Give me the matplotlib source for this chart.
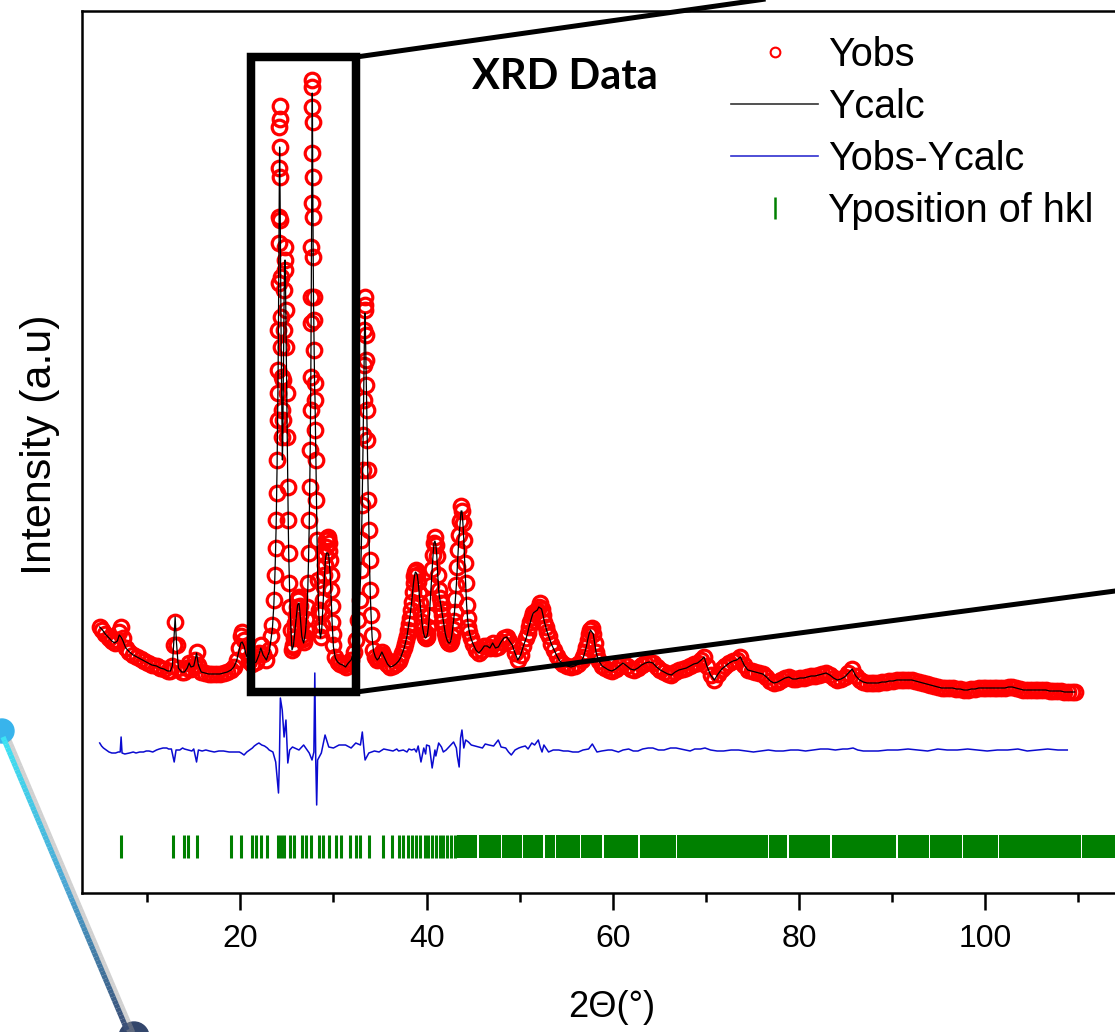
import matplotlib
matplotlib.use("Agg")
import matplotlib.pyplot as plt
import numpy as np
from matplotlib.collections import LineCollection
from matplotlib.colors import LinearSegmentedColormap
from matplotlib.lines import Line2D
from matplotlib.patches import Ellipse, Rectangle

# ---------------------------------------------------------------------------
# Data (2theta in degrees, intensity in a.u.)
# ---------------------------------------------------------------------------

# 5 - 23 deg, low-angle background with a few weak reflections
tt_low = [4.9, 5.2, 5.5, 5.9, 6.2, 6.5, 6.8, 7.0, 7.2, 7.4,
          7.7, 8.1, 8.5, 8.9, 9.3, 9.7, 10.1, 10.5, 11.0, 11.4,
          11.8, 12.2, 12.5, 12.7, 12.85, 13.0, 13.15, 13.35, 13.7, 14.0,
          14.3, 14.5, 14.7, 15.0, 15.15, 15.3, 15.5, 15.8, 16.2, 16.6,
          17.0, 17.4, 17.8, 18.2, 18.6, 19.0, 19.3, 19.6, 19.85, 20.05,
          20.2, 20.4, 20.6, 20.9, 21.3, 21.7, 22.0, 22.2, 22.45, 22.8,
          23.1, 23.3]
obs_low = [266, 263, 259, 255, 252, 250, 253, 261, 266, 255,
           245, 241, 238, 236, 234, 232, 230, 228, 227, 225,
           224, 222, 222, 227, 248, 271, 248, 225, 221, 221,
           225, 230, 224, 227, 233, 241, 228, 221, 220, 219,
           219, 219, 219, 220, 221, 223, 226, 233, 245, 257,
           261, 253, 241, 232, 229, 231, 240, 248, 239, 233,
           243, 257]
calc_low = [266, 263, 259, 255, 252, 250, 252, 258, 256, 252,
            245, 241, 238, 236, 234, 232, 230, 228, 227, 225,
            224, 222, 222, 227, 250, 276, 250, 225, 221, 221,
            225, 230, 226, 227, 233, 240, 228, 221, 220, 219,
            219, 219, 219, 220, 221, 223, 226, 232, 242, 250,
            251, 247, 239, 232, 229, 231, 238, 245, 238, 233,
            241, 254]

# 23 - 35 deg, the strong reflections inside the zoom box
tt_main = [23.45, 23.6, 23.7, 23.78, 23.85, 23.9, 23.95, 24.0, 24.03, 24.06,
           24.09, 24.12, 24.14, 24.16, 24.18, 24.2, 24.22, 24.24, 24.26, 24.28,
           24.31, 24.34, 24.37, 24.4, 24.44, 24.48, 24.52, 24.56, 24.6, 24.65,
           24.7, 24.75, 24.8, 24.85, 24.9, 24.95, 25.0, 25.05, 25.1, 25.15,
           25.2, 25.28, 25.36, 25.45, 25.55, 25.7, 25.85, 26.0, 26.15, 26.3,
           26.45, 26.6, 26.8, 27.0, 27.15, 27.25, 27.33, 27.4, 27.45, 27.5,
           27.54, 27.57, 27.6, 27.62, 27.64, 27.66, 27.68, 27.7, 27.72, 27.74,
           27.76, 27.78, 27.8, 27.83, 27.86, 27.9, 27.94, 27.98, 28.02, 28.07,
           28.12, 28.18, 28.25, 28.33, 28.42, 28.52, 28.62, 28.75, 28.88, 29.0,
           29.12, 29.25, 29.38, 29.5, 29.62, 29.75, 29.88, 30.0, 30.2, 30.45,
           30.7, 31.0, 31.3, 31.6, 31.9, 32.2, 32.45, 32.65, 32.8, 32.92,
           33.0, 33.07, 33.13, 33.18, 33.23, 33.27, 33.31, 33.35, 33.38, 33.42,
           33.46, 33.5, 33.55, 33.6, 33.65, 33.7, 33.76, 33.82, 33.88, 33.95,
           34.05, 34.15, 34.3, 34.5, 34.7,
           # extra readings on the broad 29.4 deg line and the valleys
           28.81, 28.94, 29.06, 29.18, 29.31, 29.44, 29.56, 29.69, 29.81, 29.94,
           25.62, 25.78, 25.92, 26.08, 26.22, 26.38, 26.52, 26.7, 26.9, 27.08]
obs_main = [268, 293, 318, 345, 373, 400, 433, 473, 500, 523,
            563, 610, 650, 676, 725, 766, 787, 774, 746, 716,
            673, 616, 576, 546, 516, 483, 456, 473, 513, 563,
            603, 633, 646, 623, 583, 546, 500, 456, 406, 373,
            340, 310, 286, 263, 243, 248, 263, 278, 293, 296,
            278, 258, 251, 263, 286, 310, 340, 373, 406, 443,
            483, 516, 570, 596, 646, 690, 740, 786, 813, 806,
            771, 716, 676, 636, 596, 573, 543, 510, 493, 463,
            433, 393, 353, 313, 283, 263, 256, 268, 293, 318,
            338, 353, 356, 350, 333, 303, 271, 248, 236, 231,
            229, 228, 226, 230, 233, 241, 253, 273, 293, 323,
            353, 388, 423, 458, 493, 528, 563, 588, 596, 583,
            558, 533, 508, 483, 453, 423, 393, 363, 333, 303,
            278, 258, 243, 236, 233,
            280, 306, 328, 346, 355, 354, 342, 318, 287, 259,
            246, 255, 270, 286, 295, 287, 268, 254, 256, 274]
calc_main = [265, 288, 313, 340, 368, 395, 428, 468, 495, 521,
             558, 603, 638, 671, 703, 731, 746, 738, 715, 688,
             648, 603, 568, 538, 503, 463, 433, 453, 493, 548,
             593, 625, 633, 613, 573, 533, 493, 448, 403, 368,
             338, 308, 283, 261, 243, 247, 261, 275, 288, 290,
             275, 257, 250, 261, 283, 305, 335, 368, 401, 438,
             478, 513, 563, 593, 638, 683, 728, 773, 800, 795,
             763, 713, 671, 631, 593, 563, 533, 506, 495, 463,
             428, 388, 348, 310, 281, 261, 255, 265, 288, 313,
             331, 340, 340, 337, 323, 296, 266, 246, 235, 231,
             229, 228, 226, 230, 233, 241, 252, 271, 290, 318,
             348, 381, 415, 448, 483, 515, 548, 573, 580, 571,
             548, 523, 498, 473, 443, 415, 385, 356, 328, 300,
             276, 256, 242, 236, 233,
             276, 300, 322, 336, 340, 339, 330, 310, 281, 256,
             245, 254, 268, 282, 289, 283, 266, 253, 255, 271]

# 35 - 60 deg
tt_mid = [34.9, 35.05, 35.2, 35.35, 35.5, 35.8, 36.1, 36.4, 36.7, 37.0,
          37.2, 37.4, 37.6, 37.7, 37.8, 37.9, 38.0, 38.1, 38.2, 38.3,
          38.4, 38.5, 38.6, 38.7, 38.8, 38.9, 39.0, 39.1, 39.2, 39.3,
          39.4, 39.5, 39.6, 39.7, 39.8, 39.9, 40.0, 40.1, 40.2, 40.3,
          40.4, 40.5, 40.6, 40.7, 40.8, 40.9, 41.0, 41.1, 41.2, 41.3,
          41.4, 41.5, 41.6, 41.7, 41.8, 41.9, 42.0, 42.1, 42.2, 42.3,
          42.4, 42.5, 42.6, 42.7, 42.8, 42.9, 43.0, 43.1, 43.2, 43.3,
          43.4, 43.5, 43.6, 43.7, 43.8, 43.9, 44.0, 44.1, 44.2, 44.3,
          44.4, 44.5, 44.6, 44.75, 45.0, 45.3, 45.6, 45.9, 46.2, 46.5,
          46.8, 47.1, 47.4, 47.7, 48.0, 48.3, 48.6, 48.9, 49.2, 49.5,
          49.8, 50.1, 50.4, 50.7, 50.85, 51.0, 51.15, 51.3, 51.45, 51.6,
          51.75, 51.9, 52.05, 52.2, 52.35, 52.5, 52.65, 52.8, 52.95, 53.1,
          53.4, 53.7, 54.0, 54.3, 54.7, 55.1, 55.5, 55.9, 56.3, 56.7,
          56.85, 57.0, 57.15, 57.3, 57.45, 57.6, 57.75, 57.9, 58.05, 58.2,
          58.35, 58.5, 58.85, 59.2, 59.55]
obs_mid = [235, 238, 241, 238, 235, 229, 226, 227, 229, 232,
           235, 240, 245, 249, 253, 257, 263, 269, 275, 283,
           291, 301, 310, 317, 321, 323, 318, 311, 300, 290,
           280, 271, 264, 259, 256, 255, 256, 259, 266, 277,
           292, 308, 324, 338, 350, 356, 348, 337, 318, 303,
           295, 290, 284, 278, 272, 266, 260, 256, 253, 251,
           250, 250, 252, 257, 264, 272, 281, 294, 308, 326,
           343, 358, 372, 387, 382, 370, 353, 330, 310, 288,
           275, 266, 261, 255, 249, 243, 240, 243, 247, 247,
           245, 250, 245, 246, 251, 255, 256, 252, 248, 240,
           233, 238, 247, 255, 260, 266, 271, 276, 280, 281,
           282, 283, 286, 290, 284, 278, 271, 266, 261, 257,
           249, 243, 237, 232, 229, 227, 226, 227, 229, 233,
           236, 241, 246, 253, 259, 263, 265, 259, 250, 241,
           236, 232, 227, 225, 223]
# Ycalc sits a little under the Yobs maxima of these lines
calc_mid_tops = {38.9: 320, 40.9: 352, 43.6: 369, 43.7: 382, 52.2: 285, 57.75: 261}

# 60 - 110 deg, high-angle tail (Ycalc follows Yobs within the line width)
tt_high = [59.9, 60.3, 60.7, 61.1, 61.5, 61.9, 62.3, 62.7, 63.1, 63.5,
           63.9, 64.3, 64.7, 65.1, 65.5, 65.9, 66.3, 66.7, 67.1, 67.5,
           67.9, 68.3, 68.7, 69.1, 69.5, 69.8, 70.1, 70.5, 70.9, 71.3,
           71.7, 72.1, 72.5, 72.9, 73.3, 73.7, 74.1, 74.5, 74.9, 75.3,
           75.7, 76.1, 76.5, 76.9, 77.3, 77.7, 78.1, 78.5, 78.9, 79.3,
           79.7, 80.1, 80.5, 80.9, 81.3, 81.7, 82.1, 82.5, 82.9, 83.3,
           83.7, 84.1, 84.5, 84.9, 85.3, 85.7, 86.1, 86.5, 86.9, 87.3,
           87.7, 88.1, 88.5, 88.9, 89.3, 89.7, 90.1, 90.5, 90.9, 91.3,
           91.7, 92.1, 92.5, 92.9, 93.3, 93.7, 94.1, 94.5, 94.9, 95.3,
           95.7, 96.1, 96.5, 96.9, 97.3, 97.7, 98.1, 98.5, 98.9, 99.3,
           99.7, 100.1, 100.5, 100.9, 101.3, 101.7, 102.1, 102.5, 102.9, 103.3,
           103.7, 104.1, 104.5, 104.9, 105.3, 105.7, 106.1, 106.5, 106.9, 107.3,
           107.7, 108.1, 108.5, 108.9, 109.3, 109.6]
obs_high = [222, 224, 227, 230, 227, 224, 223, 225, 228, 230,
            231, 230, 226, 223, 221, 219, 218, 221, 223, 224,
            225, 227, 229, 230, 233, 236, 227, 218, 213, 219,
            224, 227, 230, 232, 233, 236, 228, 223, 222, 221,
            220, 219, 216, 212, 210, 211, 213, 215, 216, 214,
            214, 215, 215, 216, 217, 217, 218, 219, 220, 218,
            215, 213, 214, 216, 220, 224, 217, 213, 211, 210,
            210, 210, 210, 211, 211, 212, 212, 213, 213, 213,
            213, 213, 212, 211, 210, 209, 208, 207, 206, 205,
            205, 205, 205, 204, 204, 203, 203, 204, 204, 205,
            205, 205, 205, 205, 205, 205, 205, 206, 206, 205,
            204, 203, 203, 203, 203, 203, 203, 203, 202, 202,
            202, 202, 201, 201, 201, 201]

# Yobs - Ycalc (difference curve), read separately
diff_tt = [4.9, 5.3, 5.9, 6.6, 7.1, 7.2, 7.3, 8.1, 9.2, 10.2,
           11.3, 12.1, 12.6, 12.9, 13.1, 14.0, 14.8, 15.3, 15.5, 16.7,
           17.7, 18.8, 19.9, 20.4, 21.0, 21.5, 22.0, 22.6, 23.1, 23.5,
           23.8, 24.1, 24.2, 24.3, 24.5, 24.7, 24.9, 25.1, 25.3, 25.6,
           26.3, 26.8, 27.4, 27.7, 27.9, 28.0, 28.1, 28.2, 28.3, 28.7,
           29.1, 29.5, 30.0, 30.6, 31.3, 31.9, 32.4, 32.9, 33.1, 33.3,
           33.4, 33.8, 34.9, 35.9, 37.0, 38.4, 38.9, 39.4, 39.7, 40.0,
           40.6, 40.9, 41.3, 42.1, 42.9, 43.5, 43.8, 44.2, 44.8, 45.6,
           46.7, 47.7, 48.5, 49.1, 49.9, 50.6, 51.3, 52.0, 52.4, 52.6,
           53.1, 54.2, 55.2, 56.3, 57.4, 57.8, 58.3, 59.5, 60.6, 61.7,
           62.7, 63.8, 64.9, 66.2, 67.3, 68.3, 69.4, 70.5, 71.9, 73.5,
           75.1, 76.7, 78.3, 79.9, 81.5, 83.1, 84.7, 85.8, 86.9, 88.5,
           90.6, 92.8, 94.9, 97.0, 99.2, 101.3, 103.5, 105.6, 107.8, 108.8,
           # finer readings of the small wiggles
           5.1, 5.6, 6.2, 6.9, 7.6, 8.5, 8.8, 9.6, 9.9, 10.6,
           11.0, 11.7, 12.3, 13.5, 13.8, 14.4, 15.0, 15.9, 16.3, 17.2,
           18.2, 19.3, 20.1, 20.7, 21.3, 21.8, 22.3, 22.9,
           34.4, 35.4, 36.4, 36.8, 37.5, 37.9, 38.1, 38.7, 39.1, 39.9,
           40.3, 41.0, 41.6, 41.8, 42.5, 43.2, 43.3, 43.65, 44.0, 44.5,
           45.2, 46.0, 46.3, 47.2, 48.0, 48.8, 49.5, 50.2, 50.9, 51.6,
           52.2, 53.6, 54.7, 55.7, 56.8, 58.8, 59.9,
           61.1, 62.2, 63.2, 64.3, 65.5, 66.8, 67.8, 68.8, 69.9, 71.2,
           72.7, 74.3, 75.9, 77.5, 79.1, 80.7, 82.3, 83.9, 85.2, 86.3,
           87.7, 89.5, 91.7, 93.8, 95.9, 98.1, 100.2, 102.4, 104.5, 106.7]
diff_val = [7, 2, -2, -3, -2, 13, -3, -3, -2, -1,
            1, 2, 1, -12, 0, 1, -1, -12, 0, -1,
            -1, -2, -2, -5, 0, 4, 7, 4, 0, -2,
            -12, -43, -10, 52, 40, 13, 30, -13, 0, 3,
            0, 5, -3, -10, -2, 77, -10, -55, -10, -3,
            15, 3, 2, 5, 5, 2, 7, 5, 18, -2,
            -10, -3, -2, 0, -1, 0, -2, -12, 2, 5,
            -18, 0, 7, 0, 8, -17, 20, 10, 5, 3,
            5, 10, 2, -5, 2, 4, 7, 10, -2, 5,
            -2, 0, -1, -2, 1, 6, -2, 0, -2, 1,
            -1, 2, 0, 2, 1, -1, 1, 0, -1, 0,
            -2, 0, -1, 0, 0, 1, 1, 2, -1, -1,
            0, 0, 1, 0, 0, 0, 1, 0, 0, 0,
            4, 0, -3, -2, -4, -2, -3, -2, -1, -2,
            0, 2, 1, 0, 2, 0, 1, -1, 0, -2,
            -1, -2, -3, -2, 2, 6, 5, 2,
            -1, 1, -1, 1, 0, -2, 1, 1, 4, -4,
            4, -6, 3, -2, 4, 2, -6, 12, 2, 8,
            4, 2, 6, 4, 3, -2, 0, 3, 1, 5,
            3, 0, -1, -2, 0, -1, 0,
            0, -1, 1, 2, 0, 2, 0, 1, 2, -1,
            0, -1, -1, -1, 0, -1, 1, 0, 1, 0,
            -1, 0, 1, -1, 0, 1, -1, 0, -1, 1]

# Bragg positions: resolved ticks below 43 deg, merged blocks above
hkl_tt = [7.2, 12.8, 13.9, 14.4, 15.3, 19.0, 20.1, 21.3, 21.7, 22.2,
          22.9, 24.0, 24.4, 24.7, 25.3, 25.8, 26.6, 27.0, 27.6, 28.5,
          28.9, 29.5, 30.3, 30.8, 31.8, 32.4, 32.9, 33.8, 35.3, 36.3,
          37.0, 37.5, 38.0, 38.4, 38.9, 39.3, 39.8, 40.2, 40.6, 41.0,
          41.4, 41.8, 42.2, 42.6, 43.0]
hkl_block_start = [43.3, 45.6, 48.1, 50.4, 52.7, 53.9, 56.6, 59.0, 62.9, 66.9,
                   76.8, 78.9, 83.5, 90.6, 94.1, 97.6, 101.5, 110.4]
hkl_block_end = [45.45, 47.95, 50.25, 52.55, 53.75, 56.45, 58.85, 62.75, 66.75, 76.65,
                 78.75, 83.35, 90.45, 93.95, 97.45, 101.35, 110.25, 125.0]

# ---------------------------------------------------------------------------
W, H = 1115, 1032
DIFF_OFFSET = 143          # baseline of the difference curve
HKL_BAR = (35, 23)         # y start / height of the Bragg tick row
ZOOM_X = (21.1, 32.45)     # zoom window drawn over the main reflections
ZOOM_Y = (201, 836)
INSET_X, INSET_Y = 144.6, (340, 984)   # inset sits outside the cropped frame

plt.rcParams["font.family"] = ["Liberation Sans", "DejaVu Sans"]


def fig_xy(xp, yp):
    """Pixel position of the reference -> figure fraction."""
    return xp / W, 1 - yp / H


calc_mid = [calc_mid_tops.get(t, v) for t, v in zip(tt_mid, obs_mid)]
tt = np.array(tt_low + tt_main + tt_mid + tt_high)
y_obs = np.array(obs_low + obs_main + obs_mid + obs_high)
y_calc = np.array(calc_low + calc_main + calc_mid + obs_high)
order = np.argsort(tt, kind="stable")
tt, y_obs, y_calc = tt[order], y_obs[order], y_calc[order]

d_tt = np.array(diff_tt)
d_order = np.argsort(d_tt, kind="stable")
d_tt, d_val = d_tt[d_order], np.array(diff_val)[d_order]

fig = plt.figure(figsize=(W / 100, H / 100), dpi=100)
px_per_deg = 9.3125
x_lo, x_hi = 3.0, 120.0
ax_w = (x_hi - x_lo) * px_per_deg
ax = fig.add_axes([82 / W, 1 - 893 / H, ax_w / W, 882 / H])
ax.set_xlim(x_lo, x_hi)
ax.set_ylim(0, 882)

ax.plot(tt, y_obs, "o", ms=10.5, mfc="none", mec="#ff0000", mew=2.3, zorder=2)
ax.plot(tt, y_calc, "-", color="black", lw=0.9, zorder=3)
ax.plot(d_tt, DIFF_OFFSET + d_val, "-", color="#0a0ad0", lw=1.1, zorder=3)
ax.vlines(hkl_tt, HKL_BAR[0], HKL_BAR[0] + HKL_BAR[1], color="#008000", lw=2.2)
ax.broken_barh([(s, e - s) for s, e in zip(hkl_block_start, hkl_block_end)],
               HKL_BAR, facecolor="#008000", edgecolor="none")

# zoom window and the two connector lines towards the (cropped) inset
ax.add_patch(Rectangle((ZOOM_X[0], ZOOM_Y[0]), ZOOM_X[1] - ZOOM_X[0], ZOOM_Y[1] - ZOOM_Y[0],
                       fill=False, ec="black", lw=6.1, zorder=6, clip_on=False))
for y0, y1 in zip(ZOOM_Y, INSET_Y):
    ax.plot([ZOOM_X[1], INSET_X], [y0, y1], color="black", lw=3.6,
            solid_capstyle="butt", clip_on=False, zorder=6)

ax.set_xticks([20, 40, 60, 80, 100])
ax.set_xticks(np.arange(10, 120, 20), minor=True)
ax.set_yticks([])
ax.tick_params(axis="x", which="major", length=12, width=1.8, labelsize=23, pad=10)
ax.tick_params(axis="x", which="minor", length=6.5, width=1.8)
for side in ("left", "top", "bottom"):
    ax.spines[side].set_linewidth(1.8)
ax.set_xlabel("2\u0398(\u00b0)", fontsize=26, labelpad=26, x=(612 - 82) / ax_w)
ax.set_ylabel("Intensity (a.u)", fontsize=31, labelpad=16, y=(893 - 445) / 882)

fig.text(*fig_xy(472, 77), "XRD Data", family=["Lato", "DejaVu Sans"],
         weight="bold", fontsize=30, ha="left", va="center")

handles = [
    Line2D([], [], ls="none", marker="o", ms=7, mfc="none", mec="#ff0000", mew=1.5),
    Line2D([], [], color="#333333", lw=1.2),
    Line2D([], [], color="#3030d0", lw=1.2),
    Line2D([], [], ls="none", marker="|", ms=16, mec="#008000", mew=1.8),
]
labels = ["Yobs", "Ycalc", "Yobs-Ycalc", "Yposition of hkl"]
fig.legend(handles, labels, loc="upper left", bbox_to_anchor=fig_xy(731, 36),
           frameon=False, fontsize=28.5, borderpad=0, borderaxespad=0,
           handlelength=2.2, handletextpad=0.25, labelspacing=0.35)

# decorative connector on the left edge of the slide
p0, p1 = np.array(fig_xy(3, 737)), np.array(fig_xy(127, 1030))
t = np.linspace(0, 1, 81)
pts = p0 + (p1 - p0) * t[:, None]
segs = np.stack([pts[:-1], pts[1:]], axis=1)
shadow = segs + np.array([5 / W, -4 / H])
fig.add_artist(LineCollection(shadow, colors="#9a9a9a", alpha=0.45, linewidths=5.5,
                              transform=fig.transFigure))
deco = LinearSegmentedColormap.from_list("deco", ["#3de3f4", "#4aa6d4", "#3a4d74"])
fig.add_artist(LineCollection(segs, colors=deco(t[:-1]), linewidths=3.8,
                              transform=fig.transFigure))
fig.add_artist(Ellipse(fig_xy(2, 731), 24 / W, 24 / H, color="#38b4ec",
                       transform=fig.transFigure))
fig.add_artist(Ellipse(fig_xy(134, 1037), 30 / W, 30 / H, color="#33466b",
                       transform=fig.transFigure))

fig.savefig("out.png", dpi=100)
